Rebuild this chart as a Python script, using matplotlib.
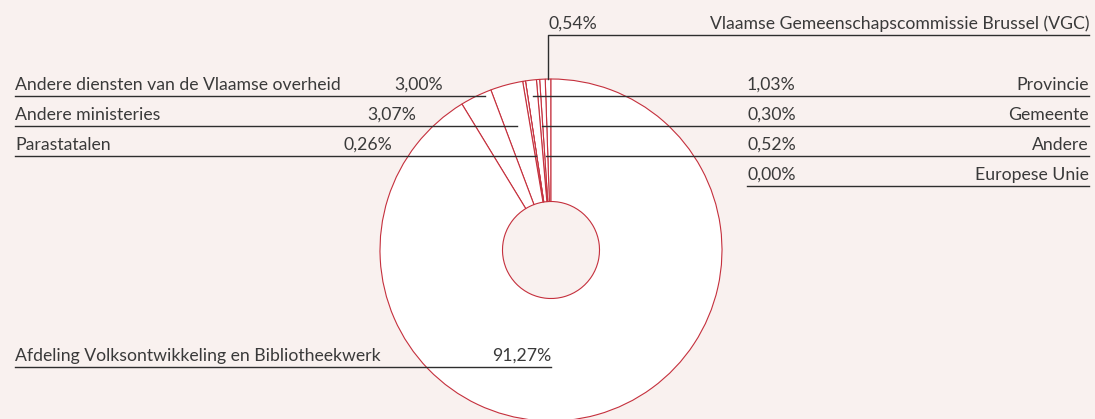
import numpy as np
import matplotlib
matplotlib.use("Agg")
import matplotlib.pyplot as plt

# aandeel per financieringsbron (%), tegen de klok in vanaf boven
bronnen = ["Vlaamse Gemeenschapscommissie Brussel (VGC)", "Andere", "Gemeente",
           "Provincie", "Europese Unie", "Parastatalen", "Andere ministeries",
           "Andere diensten van de Vlaamse overheid",
           "Afdeling Volksontwikkeling en Bibliotheekwerk"]
aandeel = [0.54, 0.52, 0.30, 1.03, 0.00, 0.26, 3.07, 3.00, 91.27]
labels_pct = ["0,54%", "0,52%", "0,30%", "1,03%", "0,00%", "0,26%", "3,07%",
              "3,00%", "91,27%"]

BG = "#f9f1ef"
ROOD = "#c5303d"
TXT = "#3a3a3a"
LIJN = "#2e2e2e"

cx, cy, R, r_in = 551, 250, 171, 48.5
W, H = 1095, 419

plt.rcParams['font.family'] = ['Lato', 'DejaVu Sans']

fig = plt.figure(figsize=(W / 100, H / 100), dpi=100, facecolor=BG)
ax = fig.add_axes([0, 0, 1, 1])
ax.set_facecolor(BG)

# donut (y-as omgekeerd: pixelcoordinaten, dus counterclock=False)
ax.pie(aandeel, center=(cx, cy), radius=R, startangle=-90, counterclock=False,
       wedgeprops=dict(width=R - r_in, facecolor="white", edgecolor=ROOD,
                       linewidth=0.8))
ax.set_xlim(0, W)
ax.set_ylim(H, 0)
ax.set_aspect("equal")
ax.axis("off")

# hoekgrenzen per segment (graden vanaf boven, tegen de klok in)
frac = np.array(aandeel) / np.sum(aandeel)
grens = np.concatenate([[0], np.cumsum(frac) * 360])


def lijn_eind(k, y):
    # midden van het stuk van de horizontale lijn dat binnen segment k valt
    xs = np.arange(0, W, 0.25)
    dx = xs - cx
    dy = cy - y
    rr = np.hypot(dx, dy)
    phi = np.degrees(np.arctan2(-dx, dy)) % 360
    m = (rr <= R) & (rr >= r_in) & (phi >= grens[k]) & (phi <= grens[k + 1])
    return xs[m].mean()


fs = 12.7
X_L, X_R = 15, 1089

# linkerkant: label links, percentage rechts uitgelijnd
links = [(7, 96, 443), (6, 126, 416), (5, 156, 392), (8, 367, 551)]
for k, y, xp in links:
    xe = lijn_eind(k, y)
    ax.plot([X_L, xe], [y, y], color=LIJN, lw=1)
    ax.text(X_L, y - 6, bronnen[k], ha="left", va="baseline", fontsize=fs, color=TXT)
    ax.text(xp, y - 6, labels_pct[k], ha="right", va="baseline", fontsize=fs, color=TXT)

# rechterkant: percentage links, label rechts uitgelijnd
X_PCT = 747
rechts = [(3, 96), (2, 126), (1, 156), (4, 186)]
for k, y in rechts:
    if aandeel[k] > 0:
        xs = lijn_eind(k, y)
    else:
        xs = X_PCT
    ax.plot([xs, X_R], [y, y], color=LIJN, lw=1)
    ax.text(X_PCT, y - 6, labels_pct[k], ha="left", va="baseline", fontsize=fs, color=TXT)
    ax.text(X_R, y - 6, bronnen[k], ha="right", va="baseline", fontsize=fs, color=TXT)

# VGC bovenaan: verticale aanwijslijn vanaf de rand
y_vgc = 35
mid = np.radians((grens[0] + grens[1]) / 2)
xv = cx - R * np.sin(mid)
yv = cy - R * np.cos(mid)
ax.plot([xv, xv, X_R], [yv, y_vgc, y_vgc], color=LIJN, lw=1)
ax.text(xv, y_vgc - 6, labels_pct[0], ha="left", va="baseline", fontsize=fs, color=TXT)
ax.text(X_R, y_vgc - 6, bronnen[0], ha="right", va="baseline", fontsize=fs, color=TXT)

fig.savefig("out.png", dpi=100, facecolor=BG)
